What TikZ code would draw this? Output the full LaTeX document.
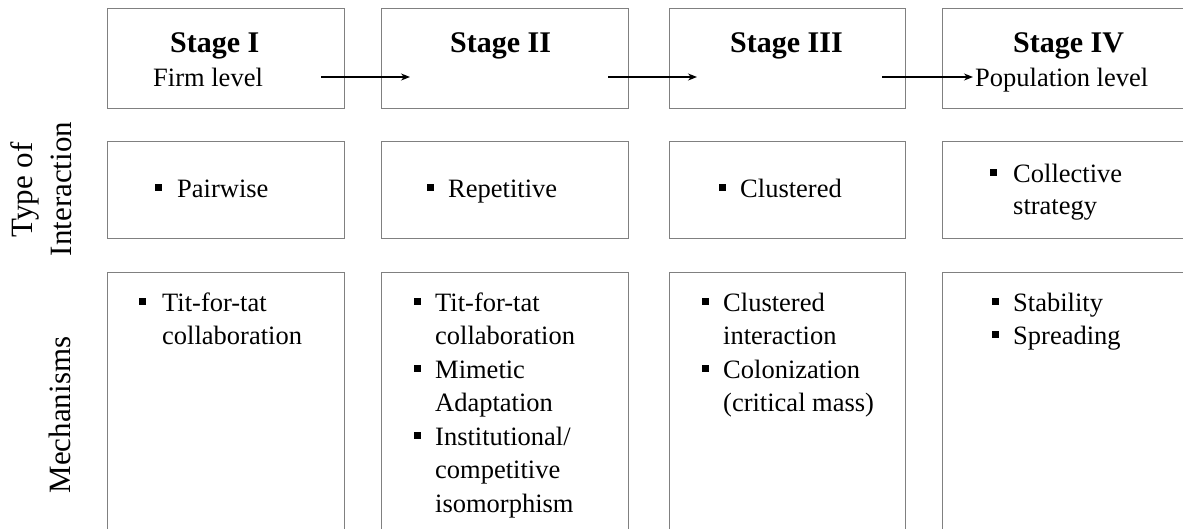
\documentclass[tikz,border=0pt]{standalone}
\usepackage{fontspec}
\setmainfont{Liberation Serif}
\usetikzlibrary{arrows.meta}
\definecolor{boxgray}{RGB}{128,128,128}
% one bulleted text line: name, bullet x, text x, baseline y, text
\newcommand{\bulletline}[5]{%
  \node[bul] (#1b) at (#2,#4-10) {};
  \node[txt] (#1) at (#3,#4) {#5};}
% continuation line of a bullet item: name, text x, baseline y, text
\newcommand{\contline}[4]{\node[txt] (#1) at (#2,#3) {#4};}
\begin{document}
\begin{tikzpicture}[x=1pt,y=-1pt,
  cell/.style={draw=boxgray, line width=1.3pt, rectangle, anchor=north west, inner sep=0pt},
  txt/.style={anchor=base west, inner sep=0pt, font=\fontsize{26.5}{32}\selectfont},
  title/.style={anchor=base west, inner sep=0pt, font=\bfseries\fontsize{30}{36}\selectfont},
  side/.style={rotate=90, anchor=base, inner sep=0pt, font=\fontsize{31}{36}\selectfont},
  bul/.style={fill=black, rectangle, minimum size=7pt, inner sep=0pt},
  arr/.style={-{Stealth[length=9pt,width=7pt]}, line width=1.3pt, black}]
\useasboundingbox (0,0) rectangle (1183,528);
\fill[white] (0,0) rectangle (1183,528);
\clip (0,0) rectangle (1183,528);

% grid of boxes: stages / type of interaction / mechanisms
\node[cell, minimum width=237pt, minimum height=100pt] (s1) at (107,8) {};
\node[cell, minimum width=247pt, minimum height=100pt] (s2) at (381,8) {};
\node[cell, minimum width=236pt, minimum height=100pt] (s3) at (669,8) {};
\node[cell, minimum width=260pt, minimum height=100pt] (s4) at (942,8) {};

\node[cell, minimum width=237pt, minimum height=97pt] (i1) at (107,141) {};
\node[cell, minimum width=247pt, minimum height=97pt] (i2) at (381,141) {};
\node[cell, minimum width=236pt, minimum height=97pt] (i3) at (669,141) {};
\node[cell, minimum width=260pt, minimum height=97pt] (i4) at (942,141) {};

\node[cell, minimum width=237pt, minimum height=280pt] (m1) at (107,272) {};
\node[cell, minimum width=247pt, minimum height=280pt] (m2) at (381,272) {};
\node[cell, minimum width=236pt, minimum height=280pt] (m3) at (669,272) {};
\node[cell, minimum width=260pt, minimum height=280pt] (m4) at (942,272) {};

% row labels
\node[side] (ltype) at (32,190) {Type of};
\node[side] (linter) at (71,189) {Interaction};
\node[side] (lmech) at (70,415) {Mechanisms};

% stage headers
\node[title] (h1) at (170,52) {Stage I};
\node[txt] (h1s) at (153,86) {Firm level};
\node[title] (h2) at (450,52) {Stage II};
\node[title] (h3) at (730,52) {Stage III};
\node[title] (h4) at (1013,52) {Stage IV};
\node[txt] (h4s) at (975,86) {Population\ level};

% arrows between stages
\coordinate (a1s) at (321,77); \coordinate (a1e) at (410,77);
\coordinate (a2s) at (608,77); \coordinate (a2e) at (697,77);
\coordinate (a3s) at (882,77); \coordinate (a3e) at (973,77);
\draw[arr] (a1s) -- (a1e);
\draw[arr] (a2s) -- (a2e);
\draw[arr] (a3s) -- (a3e);

% type of interaction
\bulletline{t1}{158}{177}{197}{Pairwise}
\bulletline{t2}{430}{448}{197}{Repetitive}
\bulletline{t3}{722}{740}{197}{Clustered}
\bulletline{t4}{993}{1013}{182}{Collective}
\contline{t4b}{1013}{214}{strategy}

% mechanisms
\bulletline{m1a}{142}{162}{311}{Tit-for-tat}
\contline{m1a2}{162}{344.5}{collaboration}

\bulletline{m2a}{417}{435}{311}{Tit-for-tat}
\contline{m2a2}{435}{344.5}{collaboration}
\bulletline{m2b}{417}{435}{378}{Mimetic}
\contline{m2b2}{435}{411.5}{Adaptation}
\bulletline{m2c}{417}{435}{445}{Institutional/}
\contline{m2c2}{435}{478.5}{competitive}
\contline{m2c3}{435}{512}{isomorphism}

\bulletline{m3a}{705}{723}{311}{Clustered}
\contline{m3a2}{723}{344.5}{interaction}
\bulletline{m3b}{705}{723}{378}{Colonization}
\contline{m3b2}{723}{411.5}{(critical\ mass)}

\bulletline{m4a}{995}{1013}{311}{Stability}
\bulletline{m4b}{995}{1013}{344.5}{Spreading}
\end{tikzpicture}
\end{document}
